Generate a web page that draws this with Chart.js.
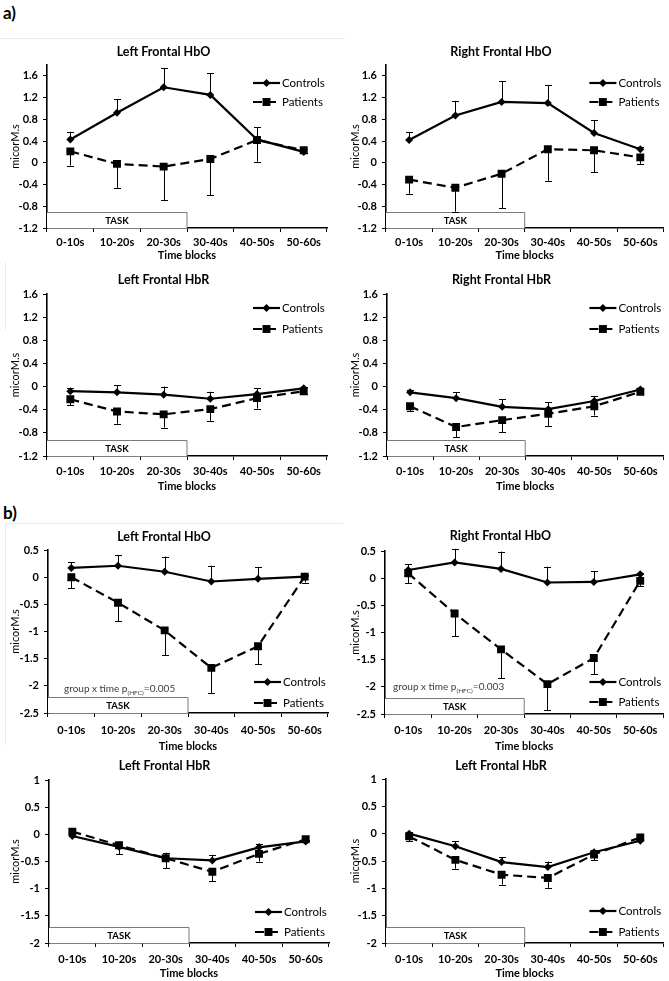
<!DOCTYPE html>
<html>
<head>
<meta charset="utf-8">
<script src="https://cdn.jsdelivr.net/npm/chart.js@4.4.1/dist/chart.umd.min.js"></script>
<style>
  body { margin: 0; background: #fff; width: 669px; height: 981px; position: relative; overflow: hidden; font-family: Lato, sans-serif; }
  canvas { position: absolute; }
  .lbl { position: absolute; left: 3px; font-weight: bold; font-size: 17px; line-height: 20px; color: #000; }
  .rule { position: absolute; background: #ebebeb; }
</style>
</head>
<body>
<div class="lbl" style="top:3px">a)</div>
<div class="lbl" style="top:503px">b)</div>
<div class="rule" style="left:0;top:38px;width:345px;height:1px"></div>
<div class="rule" style="left:5px;top:523px;width:338px;height:1px"></div>
<div class="rule" style="left:5px;top:523px;width:1px;height:222px"></div>
<div class="rule" style="left:5px;top:262px;width:1px;height:68px"></div>

<script>
const timeBlocks = ['0-10s', '10-20s', '20-30s', '30-40s', '40-50s', '50-60s'];
const seriesNames = ['Controls', 'Patients'];

const yTicksA = [-1.2, -0.8, -0.4, 0, 0.4, 0.8, 1.2, 1.6];
const yTicksBHbO = [-2.5, -2, -1.5, -1, -0.5, 0, 0.5];
const yTicksBHbR = [-2, -1.5, -1, -0.5, 0, 0.5, 1];

// a) Left Frontal HbO
const aLeftHbOControls = [0.43, 0.92, 1.39, 1.25, 0.43, 0.20];
const aLeftHbOControlsErr = [0.14, 0.25, 0.35, 0.40, 0.23, 0.05];
const aLeftHbOPatients = [0.21, -0.02, -0.07, 0.07, 0.42, 0.23];
const aLeftHbOPatientsErr = [0.26, 0.44, 0.62, 0.67, 0.40, 0.05];
// a) Right Frontal HbO
const aRightHbOControls = [0.42, 0.87, 1.12, 1.10, 0.55, 0.25];
const aRightHbOControlsErr = [0.14, 0.27, 0.38, 0.33, 0.24, 0.05];
const aRightHbOPatients = [-0.31, -0.46, -0.20, 0.25, 0.23, 0.10];
const aRightHbOPatientsErr = [0.26, 0.44, 0.63, 0.58, 0.40, 0.12];
// a) Left Frontal HbR
const aLeftHbRControls = [-0.08, -0.10, -0.14, -0.21, -0.13, -0.03];
const aLeftHbRControlsErr = [0.05, 0.12, 0.14, 0.12, 0.10, 0.03];
const aLeftHbRPatients = [-0.22, -0.43, -0.48, -0.39, -0.20, -0.08];
const aLeftHbRPatientsErr = [0.10, 0.21, 0.23, 0.20, 0.18, 0.04];
// a) Right Frontal HbR
const aRightHbRControls = [-0.10, -0.20, -0.35, -0.39, -0.25, -0.05];
const aRightHbRControlsErr = [0.04, 0.10, 0.13, 0.12, 0.09, 0.03];
const aRightHbRPatients = [-0.34, -0.70, -0.58, -0.47, -0.34, -0.09];
const aRightHbRPatientsErr = [0.08, 0.18, 0.21, 0.21, 0.16, 0.03];
// b) Left Frontal HbO
const bLeftHbOControls = [0.17, 0.21, 0.10, -0.08, -0.03, 0.01];
const bLeftHbOControlsErr = [0.11, 0.20, 0.28, 0.29, 0.21, 0.03];
const bLeftHbOPatients = [0.00, -0.47, -0.98, -1.67, -1.27, 0.01];
const bLeftHbOPatientsErr = [0.20, 0.34, 0.46, 0.46, 0.33, 0.11];
// b) Right Frontal HbO
const bRightHbOControls = [0.15, 0.29, 0.17, -0.08, -0.07, 0.07];
const bRightHbOControlsErr = [0.11, 0.25, 0.32, 0.29, 0.20, 0.02];
const bRightHbOPatients = [0.09, -0.65, -1.31, -1.95, -1.47, -0.05];
const bRightHbOPatientsErr = [0.18, 0.42, 0.53, 0.48, 0.30, 0.10];
// b) Left Frontal HbR (left)
const bLeftHbRControls = [-0.03, -0.23, -0.44, -0.48, -0.24, -0.13];
const bLeftHbRControlsErr = [0.03, 0.09, 0.10, 0.10, 0.07, 0.03];
const bLeftHbRPatients = [0.05, -0.20, -0.44, -0.69, -0.36, -0.09];
const bLeftHbRPatientsErr = [0.04, 0.17, 0.18, 0.17, 0.14, 0.03];
// b) Left Frontal HbR (right)
const bLeftHbR2Controls = [0.00, -0.23, -0.52, -0.61, -0.34, -0.13];
const bLeftHbR2ControlsErr = [0.03, 0.09, 0.09, 0.10, 0.05, 0.03];
const bLeftHbR2Patients = [-0.05, -0.48, -0.75, -0.81, -0.38, -0.07];
const bLeftHbR2PatientsErr = [0.09, 0.16, 0.18, 0.18, 0.11, 0.03];

const panels = [
  { title: 'Left Frontal HbO', col: 0, left: 47, g: [52, 65, 228, 242, 255], min: -1.2, max: 1.8, ticks: yTicksA, task: -0.9,
    c: aLeftHbOControls, ce: aLeftHbOControlsErr, p: aLeftHbOPatients, pe: aLeftHbOPatientsErr, legend: ['top', 18, 37] },
  { title: 'Right Frontal HbO', col: 1, left: 386, g: [52, 65, 228, 242, 255], min: -1.2, max: 1.8, ticks: yTicksA, task: -0.9,
    c: aRightHbOControls, ce: aRightHbOControlsErr, p: aRightHbOPatients, pe: aRightHbOPatientsErr, legend: ['top', 18, 37] },
  { title: 'Left Frontal HbR', col: 0, left: 47, g: [280, 294, 456, 471, 486], min: -1.2, max: 1.6, ticks: yTicksA, task: -0.92,
    c: aLeftHbRControls, ce: aLeftHbRControlsErr, p: aLeftHbRPatients, pe: aLeftHbRPatientsErr, legend: ['top', 14, 35] },
  { title: 'Right Frontal HbR', col: 1, left: 387, g: [280, 294, 456, 471, 486], min: -1.2, max: 1.6, ticks: yTicksA, task: -0.92,
    c: aRightHbRControls, ce: aRightHbRControlsErr, p: aRightHbRPatients, pe: aRightHbRPatientsErr, legend: ['top', 14, 35] },
  { title: 'Left Frontal HbO', col: 0, left: 48, g: [537, 550, 713, 730, 746], min: -2.5, max: 0.5, ticks: yTicksBHbO, task: -2.2,
    c: bLeftHbOControls, ce: bLeftHbOControlsErr, p: bLeftHbOPatients, pe: bLeftHbOPatientsErr, legend: ['bottom', 31, 10],
    note: ['0.005', 16, 21] },
  { title: 'Right Frontal HbO', col: 1, left: 385, g: [536, 551, 714, 730, 746], min: -2.5, max: 0.5, ticks: yTicksBHbO, task: -2.2,
    c: bRightHbOControls, ce: bRightHbOControlsErr, p: bRightHbOPatients, pe: bRightHbOPatientsErr, legend: ['bottom', 32, 12],
    note: ['0.003', 8, 24] },
  { title: 'Left Frontal HbR', col: 0, left: 49, g: [766, 780, 943, 959, 973], min: -2, max: 1, ticks: yTicksBHbR, task: -1.7,
    c: bLeftHbRControls, ce: bLeftHbRControlsErr, p: bLeftHbRPatients, pe: bLeftHbRPatientsErr, legend: ['bottom', 31, 11] },
  { title: 'Left Frontal HbR', col: 1, left: 386, g: [766, 779, 943, 959, 973], min: -2, max: 1, ticks: yTicksBHbR, task: -1.7,
    c: bLeftHbR2Controls, ce: bLeftHbR2ControlsErr, p: bLeftHbR2Patients, pe: bLeftHbR2PatientsErr, legend: ['bottom', 32, 11] }
];

const FONT = 'Lato';

function drawMarker(ctx, style, x, y, r) {
  ctx.beginPath();
  if (style === 'rectRot') {
    ctx.moveTo(x, y - r); ctx.lineTo(x + r, y); ctx.lineTo(x, y + r); ctx.lineTo(x - r, y);
    ctx.closePath();
  } else {
    const s = r * Math.SQRT1_2;
    ctx.rect(x - s, y - s, 2 * s, 2 * s);
  }
  ctx.fill();
}

function makePanel(spec) {
  const [titleY, top, bottom, xLabelY, xTitleY] = spec.g;
  const x0 = spec.col === 0 ? 0 : 336;
  const cw = spec.col === 0 ? 340 : 333;
  const right = spec.left + 280;
  const cTop = titleY - 20, cBot = xTitleY + 10;
  const lh = 12.5 * 1.2;
  const titlePadTop = titleY - cTop - lh / 2;
  const titlePadBottom = top - cTop - titlePadTop - lh;
  const xH = cBot - bottom;
  const yW = spec.left - x0;
  const yTitleX = (spec.col === 0 ? 15 : 355) - x0;

  const canvas = document.createElement('canvas');
  canvas.style.left = x0 + 'px';
  canvas.style.top = cTop + 'px';
  canvas.style.width = cw + 'px';
  canvas.style.height = (cBot - cTop) + 'px';
  canvas.width = cw; canvas.height = cBot - cTop;
  document.body.appendChild(canvas);

  const extras = {
    id: 'extras',
    beforeDatasetsDraw(chart) {
      const { ctx, chartArea, scales: { x, y } } = chart;
      // TASK box over the first three blocks
      const xEnd = (x.getPixelForValue(2) + x.getPixelForValue(3)) / 2;
      const yTop = Math.round(y.getPixelForValue(spec.task)) + 0.5;
      ctx.save();
      ctx.fillStyle = '#fff';
      ctx.strokeStyle = '#7a7a7a';
      ctx.lineWidth = 1;
      ctx.fillRect(chartArea.left, yTop, xEnd - chartArea.left, chartArea.bottom - yTop);
      ctx.beginPath();
      ctx.moveTo(chartArea.left, yTop); ctx.lineTo(xEnd, yTop); ctx.lineTo(xEnd, chartArea.bottom);
      ctx.stroke();
      ctx.fillStyle = '#000';
      ctx.font = 'bold 9.5px ' + FONT;
      ctx.textAlign = 'center'; ctx.textBaseline = 'middle';
      ctx.fillText('TASK', (chartArea.left + xEnd) / 2, (yTop + chartArea.bottom) / 2 + 0.5);

      // one-sided error bars
      ctx.strokeStyle = '#000';
      ctx.lineWidth = 1;
      chart.data.datasets.forEach((ds, di) => {
        const meta = chart.getDatasetMeta(di);
        meta.data.forEach((pt, i) => {
          const ye = y.getPixelForValue(ds.data[i] + ds.errSign * ds.err[i]);
          const px = Math.round(pt.x) + 0.5;
          ctx.beginPath();
          ctx.moveTo(px, pt.y); ctx.lineTo(px, ye);
          ctx.moveTo(px - 3.5, Math.round(ye) + 0.5); ctx.lineTo(px + 3.5, Math.round(ye) + 0.5);
          ctx.stroke();
        });
      });
      ctx.restore();
    },
    afterDraw(chart) {
      const { ctx, chartArea } = chart;
      ctx.save();
      const lx = chartArea.right - 74;
      chart.data.datasets.forEach((ds, di) => {
        const off = spec.legend[di + 1];
        const ly = spec.legend[0] === 'top' ? chartArea.top + off : chartArea.bottom - off;
        ctx.strokeStyle = '#000';
        ctx.lineWidth = 2.2;
        ctx.setLineDash(ds.borderDash || []);
        ctx.beginPath(); ctx.moveTo(lx, ly); ctx.lineTo(lx + 27, ly); ctx.stroke();
        ctx.setLineDash([]);
        ctx.fillStyle = '#000';
        drawMarker(ctx, ds.pointStyle, lx + 13.5, ly, ds.pointRadius);
        ctx.font = '11.5px ' + FONT;
        ctx.textAlign = 'left'; ctx.textBaseline = 'middle';
        ctx.fillText(ds.label, lx + 29, ly + 0.5);
      });
      if (spec.note) {
        const nx = chartArea.left + spec.note[1];
        const ny = chartArea.bottom - spec.note[2];
        ctx.fillStyle = '#3c3c3c';
        ctx.textAlign = 'left'; ctx.textBaseline = 'alphabetic';
        ctx.font = '10px ' + FONT;
        ctx.fillText('group x time p', nx, ny);
        const w1 = ctx.measureText('group x time p').width;
        ctx.font = '6.5px ' + FONT;
        ctx.fillText('(HFC)', nx + w1, ny + 2.5);
        const w2 = ctx.measureText('(HFC)').width;
        ctx.font = '10px ' + FONT;
        ctx.fillText('=' + spec.note[0], nx + w1 + w2, ny);
      }
      ctx.restore();
    }
  };

  const tickFont = { family: FONT, size: 11, weight: 'bold' };

  new Chart(canvas, {
    type: 'line',
    data: {
      labels: timeBlocks,
      datasets: [
        { label: seriesNames[0], data: spec.c, err: spec.ce, errSign: 1,
          borderColor: '#000', backgroundColor: '#000', borderWidth: 2.2,
          pointStyle: 'rectRot', pointRadius: 4, pointBorderWidth: 0, tension: 0 },
        { label: seriesNames[1], data: spec.p, err: spec.pe, errSign: -1,
          borderColor: '#000', backgroundColor: '#000', borderWidth: 2.2, borderDash: [9, 5],
          pointStyle: 'rect', pointRadius: 5.6, pointBorderWidth: 0, tension: 0 }
      ]
    },
    options: {
      responsive: false,
      animation: false,
      devicePixelRatio: 1,
      layout: { padding: { left: 0, right: x0 + cw - right, top: 0, bottom: 0 } },
      plugins: {
        legend: { display: false },
        tooltip: { enabled: false },
        title: { display: true, text: spec.title, color: '#000',
          font: { family: FONT, size: 12.5, weight: 'bold' },
          padding: { top: titlePadTop, bottom: titlePadBottom } }
      },
      scales: {
        x: {
          type: 'category', offset: true,
          afterFit: s => { s.height = xH; },
          grid: { offset: true, drawOnChartArea: false, drawTicks: true, tickLength: 4, color: '#000', lineWidth: 1 },
          border: { display: true, color: '#000', width: 1.6 },
          ticks: { color: '#000', font: tickFont, padding: xLabelY - bottom - 4 - 6.6, maxRotation: 0, autoSkip: false },
          title: { display: true, text: 'Time blocks', color: '#000', font: tickFont,
            padding: { top: 0, bottom: cBot - xTitleY - 6.6 } }
        },
        y: {
          type: 'linear', min: spec.min, max: spec.max,
          afterFit: s => { s.width = yW; },
          afterBuildTicks: s => { s.ticks = spec.ticks.map(v => ({ value: v })); },
          grid: { drawOnChartArea: false, drawTicks: true, tickLength: 4, color: '#000', lineWidth: 1 },
          border: { display: true, color: '#000', width: 1.6 },
          ticks: { color: '#000', font: tickFont, padding: 5, callback: v => String(v) },
          title: { display: true, text: 'micorM.s', color: '#000', font: { family: FONT, size: 11 },
            padding: { top: yTitleX - 6.6, bottom: 0 } }
        }
      }
    },
    plugins: [extras]
  });
}

panels.forEach(makePanel);
</script>
</body>
</html>
